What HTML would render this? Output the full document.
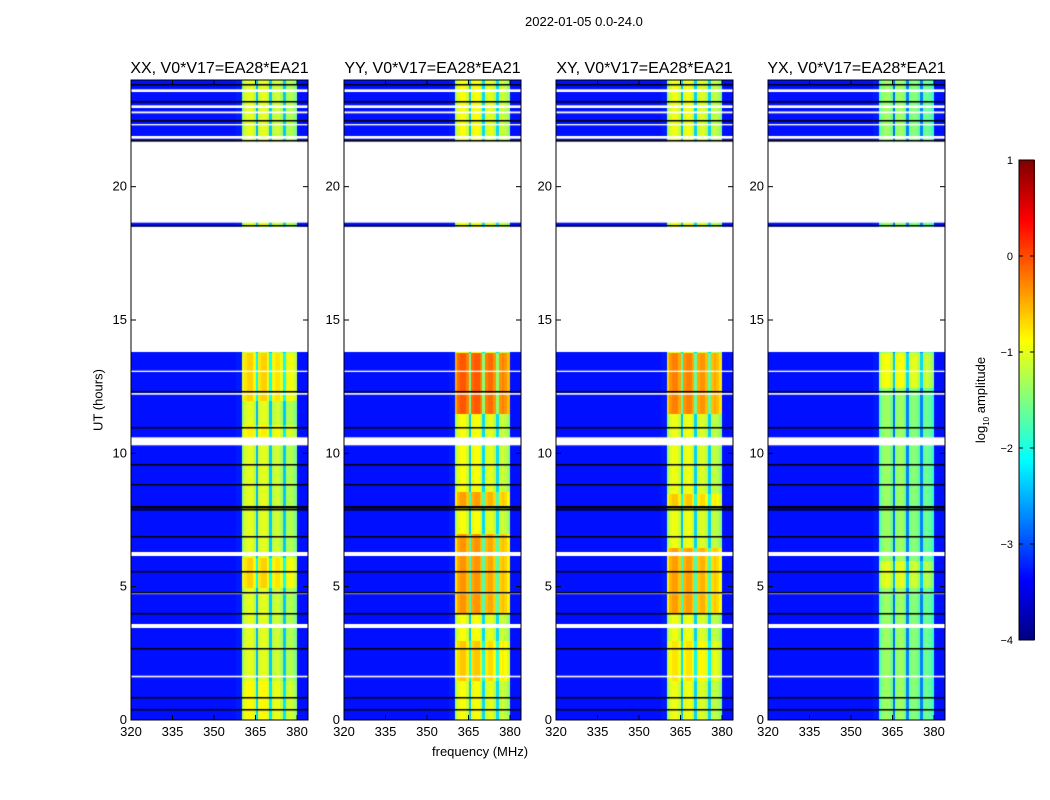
<!DOCTYPE html>
<html><head><meta charset="utf-8">
<style>
body{margin:0;background:#fff;font-family:"Liberation Sans",sans-serif;}
#root{position:relative;width:1050px;height:800px;overflow:hidden;}
.t{position:absolute;font-size:13px;color:#000;white-space:nowrap;}
canvas{position:absolute;}
</style></head><body>
<div id="root">
<div class="t" style="left:525px;top:14px;font-size:13px">2022-01-05 0.0-24.0</div>
<div class="t" style="left:432px;top:744px">frequency (MHz)</div>
<div class="t" style="left:98px;top:400px;transform:translate(-50%,-50%) rotate(-90deg)">UT (hours)</div>
<div class="t" style="left:982px;top:400px;transform:translate(-50%,-50%) rotate(-90deg)">log<sub style="font-size:8px">10</sub> amplitude</div>
<canvas id="cb" width="16" height="481" style="left:1019px;top:160px"></canvas>
<svg id="ov" width="1050" height="800" style="position:absolute;left:0;top:0"></svg>
</div>
<script>
const panelTitles=["XX, V0*V17=EA28*EA21","YY, V0*V17=EA28*EA21","XY, V0*V17=EA28*EA21","YX, V0*V17=EA28*EA21"];
const panelLefts=[131,344,556,768];
const yTicks=[0,5,10,15,20];
const xTicks=[320,335,350,365,380];
const cbTicks=[1,0,-1,-2,-3,-4];
// frequency profile, 1 MHz channels from 320 to 383
const freqProfile=[-3.3,-3.3,-3.3,-3.3,-3.3,-3.3,-3.3,-3.3,-3.3,-3.3,-3.3,-3.3,-3.3,-3.3,-3.3,-3.3,-3.3,-3.3,-3.3,-3.3,
 -3.3,-3.3,-3.3,-3.3,-3.3,-3.3,-3.3,-3.3,-3.3,-3.3,-3.3,-3.3,-3.3,-3.3,-3.3,-3.3,-3.3,-3.3,-3.25,-3.25,
 -1.4,-1.1,-1.0,-1.0,-1.2,-2.5,-1.1,-1.0,-1.0,-1.2,-2.4,-1.2,-1.1,-1.1,-1.3,-2.4,-1.3,-1.2,-1.3,-1.5,
 -3.3,-3.3,-3.3,-3.3];
// band boost segments per panel: [start hour, end hour, boost]
const boostXX=[[0,24,0],[12,13.8,0.35],[10.6,11.1,0.2],[5,6.1,0.35],[0,1.5,0.15]];
const boostYY=[[0,24,0.1],[11.5,13.8,0.85],[4,7,0.55],[8,8.6,0.5],[1.5,3,0.3]];
const boostXY=[[0,24,0.05],[11.5,13.8,0.7],[4,6.5,0.55],[8,8.5,0.35],[1.5,3,0.2]];
const boostYX=[[0,24,-0.35],[12.5,13.8,0.45],[5,6,0.35]];
const boosts=[boostXX,boostYY,boostXY,boostYX];
const whiteRanges=[[13.8,18.5],[18.65,21.7],[10.3,10.6],[6.15,6.3],[3.45,3.6],[1.6,1.66],[12.2,12.26],[13.05,13.1],[23.55,23.65],[22.95,23.05],[22.75,22.82],[22.3,22.35],[4.72,4.77],[21.8,21.9]];
const blackLines=[18.55,21.75,23.2,23.85,22.5,9.6,8.85,7.9,7.97,8.04,6.9,5.6,4.8,4.0,2.7,0.85,0.4,12.35,11.0];

function jet(v){const t=Math.max(0,Math.min(1,(v+4)/5));
 const c=x=>Math.round(255*Math.max(0,Math.min(1,x)));
 return `rgb(${c(1.5-Math.abs(4*t-3))},${c(1.5-Math.abs(4*t-2))},${c(1.5-Math.abs(4*t-1))})`;}
const TOP=80,H=640,W=177,PXMHZ=2.767;
const yOf=h=>TOP+H-h*H/24;
const root=document.getElementById('root');
const ov=document.getElementById('ov');
const NS='http://www.w3.org/2000/svg';
function add(tag,attrs,parent){const e=document.createElementNS(NS,tag);for(const k in attrs)e.setAttribute(k,attrs[k]);(parent||ov).appendChild(e);return e;}
panelLefts.forEach((L,p)=>{
 const cv=document.createElement('canvas');cv.width=W;cv.height=H;cv.style.left=L+'px';cv.style.top=TOP+'px';
 
 
 root.insertBefore(cv,ov);
 const ctx=cv.getContext('2d');
 const xOf=f=>(f-320)*PXMHZ;
 for(let r=0;r<240;r++){const h0=r*0.1,h1=h0+0.1;
  let b=0;boosts[p].forEach(s=>{if(h0>=s[0]-1e-6&&h1<=s[1]+1e-6)b+=s[2];});
  freqProfile.forEach((v,i)=>{const band=i>=40&&i<60;const val=v+(band?b:0);
   ctx.fillStyle=jet(val);const x0=xOf(320+i);const x1=xOf(321+i);
   ctx.fillRect(Math.round(x0),Math.floor(yOf(h1)-TOP),Math.round(x1)-Math.round(x0),Math.ceil(H/240)+1);});
 }
 ctx.fillStyle='#fff';whiteRanges.forEach(w=>{ctx.fillRect(0,yOf(w[1])-TOP,W,yOf(w[0])-yOf(w[1]));});
 ctx.fillStyle='#000';blackLines.forEach(h=>{ctx.fillRect(0,Math.round(yOf(h)-TOP),W,1.5);});
 const g=add('g',{});
 add('rect',{x:L,y:TOP,width:W,height:H,fill:'none',stroke:'#000','stroke-width':1},g);
 yTicks.forEach(h=>{const y=yOf(h);add('line',{x1:L,x2:L+5,y1:y,y2:y,stroke:'#000'},g);add('line',{x1:L+W-5,x2:L+W,y1:y,y2:y,stroke:'#000'},g);
  const t=add('text',{x:L-4,y:y+4,'text-anchor':'end','font-size':13,'font-family':'Liberation Sans'},g);t.textContent=h;});
 xTicks.forEach(f=>{const x=L+(f-320)*PXMHZ;add('line',{x1:x,x2:x,y1:TOP,y2:TOP+5,stroke:'#000'},g);add('line',{x1:x,x2:x,y1:TOP+H-5,y2:TOP+H,stroke:'#000'},g);
  const t=add('text',{x:x,y:TOP+H+16,'text-anchor':'middle','font-size':13,'font-family':'Liberation Sans'},g);t.textContent=f;});
 const tt=add('text',{x:L+W/2,y:TOP-7,'text-anchor':'middle','font-size':16,'font-family':'Liberation Sans'},g);tt.textContent=panelTitles[p];
});
const cb=document.getElementById('cb').getContext('2d');
for(let i=0;i<480;i++){cb.fillStyle=jet(1-i*5/480);cb.fillRect(0,i,16,1);}
add('rect',{x:1019,y:160,width:15,height:480,fill:'none',stroke:'#000'});
cbTicks.forEach(v=>{const y=160+(1-v)*96;add('line',{x1:1019,x2:1023,y1:y,y2:y,stroke:'#000'});add('line',{x1:1030,x2:1034,y1:y,y2:y,stroke:'#000'});
 const t=add('text',{x:1013,y:y+4,'text-anchor':'end','font-size':11,'font-family':'Liberation Sans'});t.textContent=v<0?'\u2212'+(-v):v;});
</script>
</body></html>
